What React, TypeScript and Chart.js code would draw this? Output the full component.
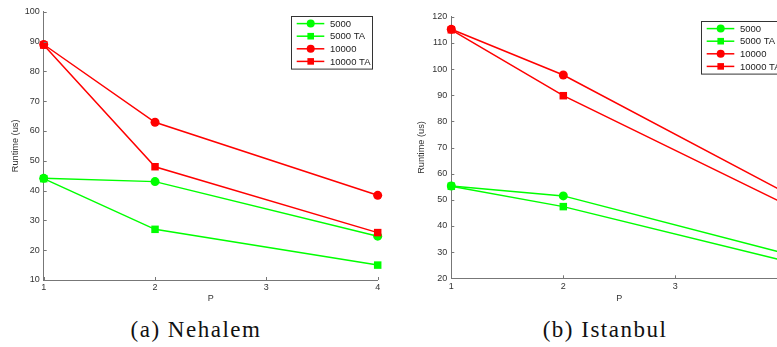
import React, { useEffect, useRef } from "react";
import { Chart, registerables } from "chart.js";

Chart.register(...registerables);

// ---- data ----
const pValues = [1, 2, 4];
const xTickValues = [1, 2, 3, 4];
const seriesLabels = ["5000", "5000 TA", "10000", "10000 TA"];
const seriesColors = ["#00ff00", "#00ff00", "#ff0000", "#ff0000"];
const seriesMarkers = ["circle", "rect", "circle", "rect"];

const nehalem5000 = [44.1, 43.0, 24.7];
const nehalem5000TA = [44.0, 27.0, 15.0];
const nehalem10000 = [89.0, 62.9, 38.4];
const nehalem10000TA = [88.8, 48.0, 25.9];
const nehalemYMin = 10;
const nehalemYMax = 100;

const istanbul5000 = [55.3, 51.5, 29.3];
const istanbul5000TA = [55.2, 47.4, 26.4];
const istanbul10000 = [115.2, 97.7, 52.4];
const istanbul10000TA = [115.0, 89.8, 48.0];
const istanbulYMin = 20;
const istanbulYMax = 120;

const yTitle = "Runtime (us)";
const xTitle = "P";
const captions = ["(a) Nehalem", "(b) Istanbul"];

const FONT = "'Liberation Sans', Arial, Helvetica, sans-serif";

function drawMarker(ctx: CanvasRenderingContext2D, style: string, x: number, y: number, r: number, color: string) {
  ctx.fillStyle = color;
  ctx.beginPath();
  if (style === "circle") {
    ctx.arc(x, y, r, 0, Math.PI * 2);
  } else {
    ctx.rect(x - r, y - r, 2 * r, 2 * r);
  }
  ctx.fill();
}

const boxLegendPlugin = {
  id: "boxLegend",
  afterDatasetsDraw(chart: any) {
    const { ctx, chartArea } = chart;
    const w = 81;
    const h = 52.6;
    const x0 = Math.round(chartArea.right - 5.4 - w);
    const y0 = Math.round(chartArea.top + 4);
    ctx.save();
    ctx.fillStyle = "#ffffff";
    ctx.fillRect(x0, y0, w, h);
    ctx.strokeStyle = "#333333";
    ctx.lineWidth = 1;
    ctx.strokeRect(x0 + 0.5, y0 + 0.5, w, h);
    chart.data.datasets.forEach((ds: any, i: number) => {
      const cy = y0 + 7.6 + i * 12.6;
      ctx.strokeStyle = ds.borderColor;
      ctx.lineWidth = 1.5;
      ctx.beginPath();
      ctx.moveTo(x0 + 5.7, cy);
      ctx.lineTo(x0 + 33.3, cy);
      ctx.stroke();
      drawMarker(ctx, ds.pointStyle, x0 + 19.7, cy, ds.pointStyle === "circle" ? 4 : 3.3, ds.borderColor);
      ctx.fillStyle = "#222222";
      ctx.font = `9.5px ${FONT}`;
      ctx.textAlign = "left";
      ctx.textBaseline = "middle";
      ctx.fillText(ds.label, x0 + 39, cy + 0.5);
    });
    ctx.restore();
  },
};

const inwardTicksPlugin = {
  id: "inwardTicks",
  afterDraw(chart: any) {
    const { ctx, chartArea } = chart;
    const xs = chart.scales.x;
    const ys = chart.scales.y;
    ctx.save();
    ctx.strokeStyle = "#777777";
    ctx.lineWidth = 1;
    ctx.beginPath();
    xs.ticks.forEach((t: any) => {
      const px = Math.round(xs.getPixelForValue(t.value)) + 0.5;
      ctx.moveTo(px, chartArea.bottom);
      ctx.lineTo(px, chartArea.bottom - 3);
    });
    ys.ticks.forEach((t: any) => {
      const py = Math.round(ys.getPixelForValue(t.value)) + 0.5;
      ctx.moveTo(chartArea.left, py);
      ctx.lineTo(chartArea.left + 3, py);
    });
    ctx.stroke();
    ctx.restore();
  },
};

type PanelProps = {
  series: number[][];
  yMin: number;
  yMax: number;
  left: number;
  width: number;
  height: number;
  padTop: number;
  padRight: number;
  yAxisWidth: number;
  xAxisHeight: number;
};

function Panel(props: PanelProps) {
  const ref = useRef<HTMLCanvasElement | null>(null);
  useEffect(() => {
    if (!ref.current) return;
    const datasets = props.series.map((vals, i) => ({
      label: seriesLabels[i],
      data: vals.map((v, j) => ({ x: pValues[j], y: v })),
      borderColor: seriesColors[i],
      backgroundColor: seriesColors[i],
      pointBackgroundColor: seriesColors[i],
      pointBorderColor: seriesColors[i],
      pointStyle: seriesMarkers[i],
      pointRadius: seriesMarkers[i] === "circle" ? 4.5 : 5.3,
      pointBorderWidth: 0,
      borderWidth: 1.5,
      tension: 0,
      clip: false as any,
      order: 4 - i,
    }));
    const chart = new Chart(ref.current, {
      type: "line",
      data: { datasets },
      options: {
        animation: false,
        responsive: false,
        devicePixelRatio: 1,
        layout: { padding: { left: 0, top: props.padTop, right: props.padRight, bottom: 0 } },
        plugins: { legend: { display: false }, tooltip: { enabled: false } },
        scales: {
          x: {
            type: "linear",
            min: 1,
            max: 4,
            afterFit: (s: any) => {
              s.height = props.xAxisHeight;
            },
            afterBuildTicks: (s: any) => {
              s.ticks = xTickValues.map((v) => ({ value: v }));
            },
            grid: { display: false, drawTicks: false },
            border: { display: true, color: "#777777", width: 1 },
            ticks: { padding: 2.5, color: "#333333", font: { family: FONT, size: 9 }, maxRotation: 0 },
            title: { display: true, text: xTitle, color: "#333333", font: { family: FONT, size: 9 }, padding: { top: 0, bottom: 5.6 } },
          },
          y: {
            type: "linear",
            min: props.yMin,
            max: props.yMax,
            afterFit: (s: any) => {
              s.width = props.yAxisWidth;
            },
            grid: { display: false, drawTicks: false },
            border: { display: true, color: "#777777", width: 1 },
            ticks: { stepSize: 10, padding: 4, color: "#333333", font: { family: FONT, size: 9 } },
            title: { display: true, text: yTitle, color: "#333333", font: { family: FONT, size: 9.2 }, padding: { top: 9.5, bottom: 0 } },
          },
        },
      } as any,
      plugins: [inwardTicksPlugin, boxLegendPlugin],
    });
    return () => chart.destroy();
  }, []);
  return (
    <canvas
      ref={ref}
      width={props.width}
      height={props.height}
      style={{ position: "absolute", left: props.left, top: 0, width: props.width, height: props.height }}
    />
  );
}

export default function App() {
  const captionStyle: React.CSSProperties = {
    position: "absolute",
    top: 318,
    width: 300,
    textAlign: "center",
    fontFamily: "'Liberation Serif', 'Times New Roman', serif",
    fontSize: 23,
    lineHeight: "23px",
    letterSpacing: 1.5,
    color: "#111111",
    whiteSpace: "nowrap",
  };
  return (
    <div style={{ position: "fixed", left: 0, top: 0, width: 777, height: 347, overflow: "hidden", background: "#ffffff" }}>
      <Panel
        series={[nehalem5000, nehalem5000TA, nehalem10000, nehalem10000TA]}
        yMin={nehalemYMin}
        yMax={nehalemYMax}
        left={0}
        width={400}
        height={310}
        padTop={11.7}
        padRight={22.3}
        yAxisWidth={43.7}
        xAxisHeight={30}
      />
      <Panel
        series={[istanbul5000, istanbul5000TA, istanbul10000, istanbul10000TA]}
        yMin={istanbulYMin}
        yMax={istanbulYMax}
        left={406}
        width={410}
        height={310}
        padTop={16.7}
        padRight={28.7}
        yAxisWidth={45.3}
        xAxisHeight={31.7}
      />
      <div style={{ ...captionStyle, left: 196 - 150 }}>{captions[0]}</div>
      <div style={{ ...captionStyle, left: 605 - 150 }}>{captions[1]}</div>
    </div>
  );
}
